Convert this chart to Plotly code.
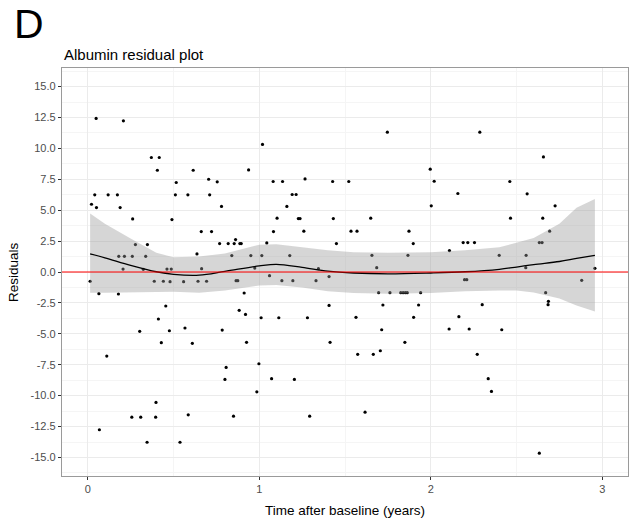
import plotly.graph_objects as go

# Residual points (time in years, residual)
time_years = [
    0.049, 0.208, 0.371, 0.417, 0.406, 0.516, 0.615, 0.705, 0.022, 0.041, 0.051, 0.119, 0.173, 0.189,
    0.511, 0.584, 0.711, 0.262, 0.491, 0.662, 0.278, 0.348, 0.637, 0.181, 0.214, 0.260, 0.338, 0.206,
    0.324, 0.462, 0.487, 0.664,
    0.014, 0.388, 0.441, 0.480, 0.559, 0.643, 0.693, 0.065, 0.179, 0.455, 0.412, 0.303, 0.476, 0.567,
    0.429, 0.610, 0.111, 0.398, 0.257, 0.309, 0.396, 0.586, 0.068, 0.346, 0.538,
    1.019, 0.938, 0.755, 1.081, 1.136, 1.267, 1.428, 1.522, 1.192, 1.215, 0.780, 1.161, 1.104, 1.228,
    1.238, 1.432, 0.722, 1.083, 1.260, 0.769, 0.819, 0.854, 0.862, 0.887, 0.895, 1.044, 1.450, 0.840,
    0.951, 1.015, 1.178, 0.974, 1.345,
    0.865, 0.875, 1.060, 1.132, 1.196, 1.331, 1.407, 0.912, 1.407, 0.883, 0.920, 1.011, 1.114, 1.281,
    0.784, 0.926, 1.413, 0.998, 0.807, 0.800, 1.072, 1.205, 0.986, 0.850, 1.294,
    1.747, 2.286, 1.997, 2.020, 2.158, 2.003, 1.650, 1.535, 1.570, 1.873, 1.898, 2.189, 2.216, 2.255,
    2.109, 1.657, 1.867, 1.685,
    2.197, 2.210, 1.696, 1.762, 1.825, 1.839, 1.852, 1.863, 1.941, 1.721, 1.929, 2.300, 1.564, 1.900,
    2.164, 1.714, 2.107, 2.224, 1.849, 1.574, 1.665, 1.706, 2.271, 2.335, 1.617,
    2.657, 2.461, 2.562, 2.725, 2.465, 2.653, 2.693, 2.633, 2.649, 2.399, 2.556, 2.554, 2.957,
    2.880, 2.670, 2.686, 2.684, 2.414, 2.354, 2.633,
]
residuals = [
    12.42, 12.23, 9.26, 9.26, 8.23, 7.24, 8.23, 7.50, 5.48, 6.24, 5.21, 6.24, 6.24, 5.21,
    6.24, 6.24, 6.24, 4.29, 4.24, 3.27, 2.22, 2.22, 1.46, 1.27, 1.27, 1.27, 1.27, 0.24,
    0.22, 0.24, 0.24, 0.27,
    -0.75, -0.75, -0.75, -0.78, -0.78, -0.75, -0.75, -1.75, -1.78, -2.75, -3.80, -4.80, -4.75, -4.53,
    -5.72, -5.77, -6.80, -10.55, -11.74, -11.74, -11.74, -11.55, -12.76, -13.77, -13.77,
    10.32, 8.26, 7.29, 7.32, 7.32, 7.53, 7.32, 7.32, 6.27, 6.27, 5.30, 5.30, 4.35, 4.32,
    4.32, 4.32, 3.27, 3.27, 3.30, 2.30, 2.30, 2.30, 2.62, 2.30, 2.30, 2.35, 2.30, 1.33,
    1.33, 1.33, 1.33, 0.32, 0.27,
    -0.70, -0.70, -0.30, -0.70, -0.70, -0.70, -0.37, -1.70, -2.70, -3.10, -3.43, -3.70, -3.70, -3.70,
    -4.70, -5.69, -5.69, -7.42, -7.72, -8.69, -8.63, -8.69, -9.69, -11.66, -11.66,
    11.31, 11.31, 8.32, 7.34, 6.35, 5.35, 4.35, 3.30, 3.30, 3.30, 2.30, 2.38, 2.38, 2.38,
    1.73, 1.35, 1.35, 0.35,
    -0.62, -0.62, -1.67, -1.67, -1.67, -1.67, -1.67, -1.67, -1.67, -2.67, -2.67, -2.64, -3.67, -3.67,
    -3.61, -4.67, -4.61, -4.61, -5.69, -6.66, -6.66, -6.37, -6.66, -8.63, -11.34,
    9.31, 7.32, 6.32, 5.35, 4.35, 4.35, 3.30, 2.38, 2.38, 1.35, 1.35, 0.35, 0.30,
    -0.67, -1.67, -2.37, -2.64, -4.67, -9.66, -14.65,
]

# Smoothed fit with confidence band
smooth_x = [0.014, 0.1, 0.25, 0.4, 0.5, 0.65, 0.8, 1.0, 1.1, 1.25, 1.4, 1.55, 1.75, 2.0,
            2.2, 2.4, 2.5, 2.6, 2.75, 2.85, 2.957]
smooth_fit = [1.46, 1.15, 0.54, 0.02, -0.19, -0.26, 0.05, 0.49, 0.62, 0.38, 0.07, -0.08, -0.15, -0.08,
              0.02, 0.22, 0.40, 0.60, 0.85, 1.10, 1.35]
smooth_upper = [4.73, 3.90, 2.70, 1.55, 1.20, 1.25, 1.50, 2.20, 2.25, 2.00, 1.75, 1.60, 1.55, 1.60,
                1.75, 2.00, 2.35, 2.75, 3.90, 5.20, 5.90]
smooth_lower = [-1.67, -1.67, -1.67, -1.62, -1.60, -1.67, -1.50, -1.10, -1.05, -1.25, -1.55, -1.70, -1.75, -1.70,
                -1.55, -1.50, -1.50, -1.65, -2.15, -2.70, -3.20]

y_ticks = [-15.0, -12.5, -10.0, -7.5, -5.0, -2.5, 0.0, 2.5, 5.0, 7.5, 10.0, 12.5, 15.0]
x_ticks = [0, 1, 2, 3]
reference_level = 0.0

FONT = "Liberation Sans, Arial, sans-serif"

fig = go.Figure()
fig.add_trace(go.Scatter(
    x=time_years, y=residuals, mode="markers",
    marker=dict(color="black", size=3.2), showlegend=False, hoverinfo="x+y"))
fig.add_trace(go.Scatter(
    x=smooth_x + smooth_x[::-1], y=smooth_upper + smooth_lower[::-1],
    fill="toself", fillcolor="rgba(153,153,153,0.4)", line=dict(width=0),
    mode="lines", showlegend=False, hoverinfo="skip"))
fig.add_trace(go.Scatter(
    x=smooth_x, y=smooth_fit, mode="lines", line=dict(color="black", width=1.3, shape="spline"),
    showlegend=False))
fig.add_hline(y=reference_level, line=dict(color="#FF0000", width=1.2), layer="above")

fig.update_layout(
    width=637, height=525,
    margin=dict(l=62, r=9, t=68, b=49, autoexpand=False),
    plot_bgcolor="white", paper_bgcolor="white",
    font=dict(family=FONT, color="black"),
    annotations=[
        dict(text="Albumin residual plot", x=0, y=1, xref="paper", yref="paper",
             xanchor="left", yanchor="bottom", yshift=3, showarrow=False,
             font=dict(size=15, color="black", family=FONT)),
        dict(text="D", x=0, y=1, xref="paper", yref="paper", xanchor="left", yanchor="bottom",
             xshift=-50, yshift=19, showarrow=False,
             font=dict(size=41, color="black", family=FONT)),
        dict(text="Time after baseline (years)", x=0.5, y=0, xref="paper", yref="paper",
             xanchor="center", yanchor="middle", yshift=-34, showarrow=False,
             font=dict(size=13.5, color="black", family=FONT)),
        dict(text="Residuals", x=0, y=0.5, xref="paper", yref="paper", textangle=-90,
             xanchor="center", yanchor="middle", xshift=-49, showarrow=False,
             font=dict(size=13.5, color="black", family=FONT)),
    ],
)

fig.update_xaxes(
    range=[-0.15, 3.15], tickvals=x_ticks, ticktext=[str(v) for v in x_ticks],
    showgrid=True, gridcolor="#ebebeb", gridwidth=1.1,
    minor=dict(dtick=0.5, tick0=0, showgrid=True, gridcolor="#f5f5f5", gridwidth=0.6),
    zeroline=False, showline=True, mirror=True, linecolor="#9a9a9a", linewidth=1.3,
    ticks="outside", ticklen=3, tickcolor="#333333", tickwidth=1,
    tickfont=dict(size=11, color="#4d4d4d", family=FONT), automargin=False,
)
fig.update_yaxes(
    range=[-16.5, 16.5], tickvals=y_ticks, ticktext=[f"{v:.1f}" for v in y_ticks],
    showgrid=True, gridcolor="#ebebeb", gridwidth=1.1,
    minor=dict(dtick=1.25, tick0=0, showgrid=True, gridcolor="#f5f5f5", gridwidth=0.6),
    zeroline=False, showline=True, mirror=True, linecolor="#9a9a9a", linewidth=1.3,
    ticks="outside", ticklen=3, tickcolor="#333333", tickwidth=1,
    tickfont=dict(size=11, color="#4d4d4d", family=FONT), automargin=False,
)

fig.write_html("out.html")
